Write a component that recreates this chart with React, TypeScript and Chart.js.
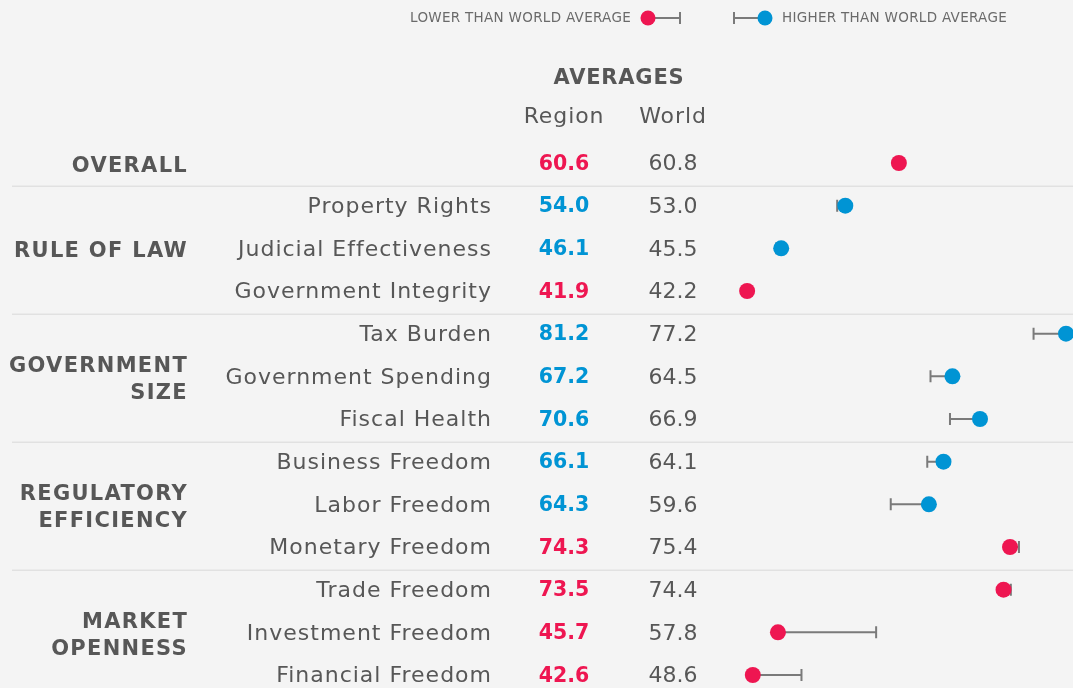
import React, { useEffect, useRef } from "react";
import { Chart, registerables } from "chart.js";

Chart.register(...registerables);

const labels = [
  "Overall",
  "Property Rights",
  "Judicial Effectiveness",
  "Government Integrity",
  "Tax Burden",
  "Government Spending",
  "Fiscal Health",
  "Business Freedom",
  "Labor Freedom",
  "Monetary Freedom",
  "Trade Freedom",
  "Investment Freedom",
  "Financial Freedom",
];
const regionValues = [60.6, 54.0, 46.1, 41.9, 81.2, 67.2, 70.6, 66.1, 64.3, 74.3, 73.5, 45.7, 42.6];
const worldValues = [60.8, 53.0, 45.5, 42.2, 77.2, 64.5, 66.9, 64.1, 59.6, 75.4, 74.4, 57.8, 48.6];
const groupNames = [["OVERALL"], ["RULE OF LAW"], ["GOVERNMENT", "SIZE"], ["REGULATORY", "EFFICIENCY"], ["MARKET", "OPENNESS"]];
const groupRows = [[0, 0], [1, 3], [4, 6], [7, 9], [10, 12]];

const RED = "#ee1651";
const BLUE = "#0094d4";
const GRAY = "#575757";
const BAR = "#7a7a7a";
const BG = "#f4f4f4";
const FONT = "'DejaVu Sans', sans-serif";
const TY = 1.5;

function setLS(ctx: any, v: number) {
  if ("letterSpacing" in ctx) ctx.letterSpacing = v + "px";
}

const tablePlugin = {
  id: "table",
  beforeDatasetsDraw(chart: any) {
    const ctx = chart.ctx;
    const xs = chart.scales.x;
    const ys = chart.scales.y;
    ctx.save();
    // separators
    ctx.strokeStyle = "#e1e1e1";
    ctx.lineWidth = 1.5;
    groupRows.forEach((g, gi) => {
      if (gi === 0) return;
      const y = (ys.getPixelForValue(g[0] - 1) + ys.getPixelForValue(g[0])) / 2 + 2;
      ctx.beginPath();
      ctx.moveTo(12, y);
      ctx.lineTo(chart.width, y);
      ctx.stroke();
    });
    // error bars
    ctx.strokeStyle = BAR;
    ctx.lineWidth = 2;
    regionValues.forEach((r, i) => {
      const y = ys.getPixelForValue(i);
      const x1 = xs.getPixelForValue(r);
      const x2 = xs.getPixelForValue(worldValues[i]);
      ctx.beginPath();
      ctx.moveTo(x1, y);
      ctx.lineTo(x2, y);
      ctx.moveTo(x2, y - 6);
      ctx.lineTo(x2, y + 6);
      ctx.stroke();
    });
    // legend
    ctx.textBaseline = "middle";
    ctx.font = `13.5px ${FONT}`;
    setLS(ctx, 0.3);
    ctx.fillStyle = "#6a6a6a";
    ctx.textAlign = "right";
    ctx.fillText("LOWER THAN WORLD AVERAGE", 631, 18.5);
    ctx.textAlign = "left";
    ctx.fillText("HIGHER THAN WORLD AVERAGE", 782, 18.5);
    ctx.beginPath();
    ctx.moveTo(648, 18);
    ctx.lineTo(680, 18);
    ctx.moveTo(680, 12);
    ctx.lineTo(680, 24);
    ctx.moveTo(734, 18);
    ctx.lineTo(765, 18);
    ctx.moveTo(734, 12);
    ctx.lineTo(734, 24);
    ctx.stroke();
    ctx.fillStyle = RED;
    ctx.beginPath();
    ctx.arc(648, 18, 7.5, 0, Math.PI * 2);
    ctx.fill();
    ctx.fillStyle = BLUE;
    ctx.beginPath();
    ctx.arc(765, 18, 7.5, 0, Math.PI * 2);
    ctx.fill();
    // headers
    ctx.fillStyle = GRAY;
    ctx.textAlign = "center";
    ctx.font = `bold 21px ${FONT}`;
    setLS(ctx, 0.8);
    ctx.fillText("AVERAGES", 619, 77 + TY);
    ctx.font = `22px ${FONT}`;
    setLS(ctx, 0.9);
    ctx.fillText("Region", 564, 116 + TY);
    ctx.fillText("World", 673, 116 + TY);
    // rows
    labels.forEach((lab, i) => {
      const y = ys.getPixelForValue(i) + TY;
      if (i > 0) {
        ctx.textAlign = "right";
        ctx.fillStyle = GRAY;
        ctx.font = `22px ${FONT}`;
        setLS(ctx, 1.0);
        ctx.fillText(lab, 492, y);
      }
      ctx.textAlign = "center";
      ctx.font = `bold 20.5px ${FONT}`;
      setLS(ctx, 0);
      ctx.fillStyle = regionValues[i] < worldValues[i] ? RED : BLUE;
      ctx.fillText(regionValues[i].toFixed(1), 564, y);
      ctx.font = `22px ${FONT}`;
      ctx.fillStyle = GRAY;
      ctx.fillText(worldValues[i].toFixed(1), 673, y);
    });
    // group names
    ctx.textAlign = "right";
    ctx.fillStyle = GRAY;
    ctx.font = `bold 21px ${FONT}`;
    setLS(ctx, 1.3);
    groupNames.forEach((lines, gi) => {
      const c = (ys.getPixelForValue(groupRows[gi][0]) + ys.getPixelForValue(groupRows[gi][1])) / 2 + 3.5;
      const lh = 27.5;
      lines.forEach((t, li) => {
        ctx.fillText(t, 188, c + (li - (lines.length - 1) / 2) * lh);
      });
    });
    ctx.restore();
  },
};

export default function App() {
  const ref = useRef<HTMLCanvasElement>(null);
  useEffect(() => {
    if (!ref.current) return;
    const chart = new Chart(ref.current, {
      type: "scatter",
      data: {
        datasets: [
          {
            data: regionValues.map((v, i) => ({ x: v, y: i })),
            pointRadius: 8,
            pointHoverRadius: 8,
            pointBorderWidth: 0,
            pointBackgroundColor: regionValues.map((v, i) => (v < worldValues[i] ? RED : BLUE)),
            clip: false as any,
          },
        ],
      },
      options: {
        animation: false,
        responsive: false,
        layout: { padding: 0, autoPadding: false } as any,
        plugins: { legend: { display: false }, tooltip: { enabled: false } },
        scales: {
          x: { type: "linear", display: false, min: -50.17, max: 82.06 },
          y: { type: "linear", display: false, min: -3.8203, max: 12.3047, reverse: true },
        },
      },
      plugins: [tablePlugin],
    });
    return () => chart.destroy();
  }, []);
  return (
    <div style={{ position: "absolute", left: 0, top: 0, width: 1073, height: 688, background: BG }}>
      <canvas ref={ref} width={1073} height={688} />
    </div>
  );
}
